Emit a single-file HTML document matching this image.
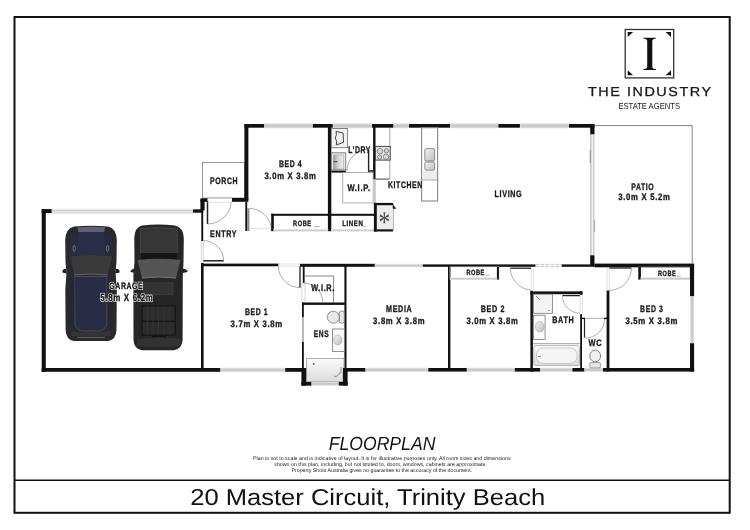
<!DOCTYPE html>
<html><head><meta charset="utf-8"><style>
html,body{margin:0;padding:0;background:#fff;width:750px;height:530px;overflow:hidden}
svg{display:block;will-change:transform}
.lb{font-family:"Liberation Sans",sans-serif;font-weight:bold;text-rendering:geometricPrecision}
text{font-family:"Liberation Sans",sans-serif;text-rendering:geometricPrecision}
</style></head><body>
<svg width="750" height="530" viewBox="0 0 750 530">
<defs>
<linearGradient id="wg" x1="0" y1="0" x2="0" y2="1"><stop offset="0" stop-color="#e2e2e2"/><stop offset="0.5" stop-color="#c4c4c4"/><stop offset="1" stop-color="#d6d6d6"/></linearGradient>
<linearGradient id="wgv" x1="0" y1="0" x2="1" y2="0"><stop offset="0" stop-color="#e2e2e2"/><stop offset="0.5" stop-color="#c4c4c4"/><stop offset="1" stop-color="#d6d6d6"/></linearGradient>
<linearGradient id="sg" x1="0" y1="0" x2="1" y2="1"><stop offset="0" stop-color="#f4f4f4"/><stop offset="1" stop-color="#bdbdbd"/></linearGradient>
<linearGradient id="sg2" x1="0" y1="0" x2="1" y2="0"><stop offset="0" stop-color="#9a9a9a"/><stop offset="0.4" stop-color="#d0d0d0"/><stop offset="1" stop-color="#eeeeee"/></linearGradient>
<linearGradient id="bg" x1="0" y1="0" x2="0" y2="1"><stop offset="0" stop-color="#fbfbfb"/><stop offset="1" stop-color="#dcdcdc"/></linearGradient>
</defs>
<rect width="750" height="530" fill="#fff"/>
<rect x="14.5" y="17" width="715.2" height="495.8" fill="none" stroke="#111" stroke-width="2"/>
<line x1="14.5" y1="480.2" x2="729.7" y2="480.2" stroke="#111" stroke-width="1.6"/>
<rect x="41.7" y="209.1" width="10.1" height="4.0" fill="#111"/>
<rect x="51.8" y="208.5" width="141.1" height="5.6" fill="#ebebeb"/>
<line x1="51.8" y1="210.7" x2="192.9" y2="210.7" stroke="#c2c2c2" stroke-width="1.1"/>
<line x1="51.8" y1="212.8" x2="192.9" y2="212.8" stroke="#d6d6d6" stroke-width="0.8"/>
<rect x="192.9" y="209.3" width="10.3" height="3.4" fill="#111"/>
<rect x="41.7" y="209.1" width="4.1" height="162.9" fill="#111"/>
<rect x="41.7" y="368" width="179.0" height="3.8" fill="#111"/>
<rect x="220.7" y="368" width="64.5" height="3.8" fill="url(#wg)" stroke="#e4e4e4" stroke-width="0.6"/>
<rect x="285.2" y="368" width="18.3" height="3.8" fill="#111"/>
<rect x="202.4" y="162.5" width="42.1" height="35.5" stroke="#8a8a8a" stroke-width="0.9" fill="none"/>
<rect x="200.4" y="198.3" width="7.1" height="3.5" fill="#111"/>
<rect x="200.4" y="199.9" width="4.2" height="10.4" fill="#111"/>
<rect x="201.3" y="199" width="1.9" height="42" fill="#111"/>
<rect x="232" y="198" width="16.4" height="3.8" fill="#111"/>
<line x1="207.5" y1="201" x2="207.5" y2="224" stroke="#222" stroke-width="1.5"/>
<path d="M207.5 224 A23.5 23.5 0 0 0 231.2 201.5" stroke="#999" stroke-width="0.8" fill="none"/>
<line x1="207.5" y1="197.2" x2="232" y2="197.2" stroke="#ccc" stroke-width="0.6"/>
<line x1="207.5" y1="202.3" x2="232" y2="202.3" stroke="#ccc" stroke-width="0.6"/>
<line x1="201.3" y1="241" x2="201.3" y2="261" stroke="#bbb" stroke-width="0.6"/>
<line x1="203.3" y1="241" x2="203.3" y2="261" stroke="#bbb" stroke-width="0.6"/>
<line x1="203.2" y1="260.8" x2="224" y2="260.8" stroke="#222" stroke-width="1.5"/>
<path d="M203.2 240.5 A20.5 20.5 0 0 1 223.7 261" stroke="#999" stroke-width="0.8" fill="none"/>
<rect x="244.5" y="124" width="20.1" height="3.7" fill="#111"/>
<rect x="264.6" y="123.5" width="48.2" height="4.5" fill="url(#wg)" stroke="#e4e4e4" stroke-width="0.6"/>
<rect x="312.8" y="124" width="20.2" height="3.7" fill="#111"/>
<rect x="244.4" y="124" width="4.0" height="75.4" fill="#111"/>
<rect x="245.3" y="201.8" width="1.9" height="29.2" fill="#111"/>
<rect x="247.2" y="208.4" width="2.2" height="22.6" fill="#8a8a8a"/>
<path d="M249.4 208.4 A22.6 22.6 0 0 1 271.5 231" stroke="#999" stroke-width="0.8" fill="none"/>
<line x1="249.4" y1="228.7" x2="271.2" y2="228.7" stroke="#ccc" stroke-width="0.6"/>
<rect x="327.9" y="124" width="3.4" height="107.2" fill="#111"/>
<rect x="271.2" y="213.8" width="102.8" height="2.0" fill="#111"/>
<rect x="271.2" y="213.8" width="2.6" height="17.4" fill="#111"/>
<rect x="273.8" y="229.2" width="54.1" height="2.0" fill="url(#wg)" stroke="#e4e4e4" stroke-width="0.6"/>
<rect x="331.3" y="229.2" width="42.7" height="2.0" fill="url(#wg)" stroke="#e4e4e4" stroke-width="0.6"/>
<rect x="333" y="123.5" width="39" height="4.5" fill="url(#wg)" stroke="#e4e4e4" stroke-width="0.6"/>
<rect x="372" y="124" width="21.8" height="3.7" fill="#111"/>
<rect x="373.1" y="124" width="2.4" height="55.4" fill="#111"/>
<rect x="331.3" y="128.5" width="16.3" height="19.2" stroke="#777" stroke-width="0.9" fill="#f2f2f2"/>
<path d="M336 131.4 L343.1 133 L343.5 142.3 Q340 143.8 336.4 144.8 Q337.4 141 335.2 138 Q337.2 135 336 131.4 Z" stroke="#333" stroke-width="0.9" fill="none"/>
<rect x="331.3" y="152.8" width="14.4" height="17.0" stroke="#777" stroke-width="0.9" fill="#e8e8e8"/>
<rect x="333.5" y="155" width="10" height="14" fill="url(#sg2)" stroke="#999" stroke-width="0.5"/>
<line x1="333.2" y1="161.6" x2="337.5" y2="161.6" stroke="#555" stroke-width="1.2"/>
<rect x="331.3" y="170.6" width="14.7" height="2.0" fill="#111"/>
<line x1="368.6" y1="150" x2="368.6" y2="171.5" stroke="#222" stroke-width="1.4"/>
<line x1="368" y1="171" x2="373.2" y2="171" stroke="#222" stroke-width="1.6"/>
<path d="M347 171 A21.6 21.6 0 0 1 368.6 149.4" stroke="#999" stroke-width="0.8" fill="none"/>
<rect x="342.8" y="172.6" width="30.4" height="30.3" stroke="#999" stroke-width="0.8" fill="none"/>
<rect x="373.3" y="179.5" width="2.5" height="23.5" fill="#c8c8c8"/>
<line x1="375.5" y1="179.1" x2="389.5" y2="179.1" stroke="#444" stroke-width="1"/>
<line x1="389.8" y1="127.7" x2="389.8" y2="179.1" stroke="#888" stroke-width="0.8"/>
<rect x="375.4" y="146.4" width="14.8" height="13.7" stroke="#444" stroke-width="1" fill="#e4e4e4"/>
<circle cx="379.9" cy="151.2" r="2.7" fill="#f2f2f2" stroke="#666" stroke-width="0.8"/>
<circle cx="379.9" cy="151.2" r="1.22" fill="none" stroke="#999" stroke-width="0.5"/>
<circle cx="386.4" cy="150.8" r="2.1" fill="#f2f2f2" stroke="#666" stroke-width="0.8"/>
<circle cx="386.4" cy="150.8" r="0.95" fill="none" stroke="#999" stroke-width="0.5"/>
<circle cx="379.6" cy="157.1" r="2.1" fill="#f2f2f2" stroke="#666" stroke-width="0.8"/>
<circle cx="379.6" cy="157.1" r="0.95" fill="none" stroke="#999" stroke-width="0.5"/>
<circle cx="386.1" cy="156.8" r="2.7" fill="#f2f2f2" stroke="#666" stroke-width="0.8"/>
<circle cx="386.1" cy="156.8" r="1.22" fill="none" stroke="#999" stroke-width="0.5"/>
<rect x="393.8" y="123.5" width="15.2" height="4.5" fill="url(#wg)" stroke="#e4e4e4" stroke-width="0.6"/>
<rect x="409" y="124" width="41.4" height="3.7" fill="#111"/>
<rect x="421.6" y="127.7" width="16.0" height="73.3" stroke="#888" stroke-width="1.1" fill="none"/>
<rect x="422.2" y="170.8" width="14.8" height="9.2" fill="#ececec"/>
<line x1="421.6" y1="180" x2="437.6" y2="180" stroke="#999" stroke-width="0.8"/>
<rect x="424.8" y="148.6" width="9.9" height="12.4" rx="1.5" fill="url(#sg)" stroke="#666" stroke-width="0.7"/>
<rect x="424.8" y="162" width="9.9" height="8.2" rx="1.5" fill="url(#sg)" stroke="#666" stroke-width="0.7"/>
<rect x="375" y="204" width="18.4" height="26" fill="#ececec" stroke="#999" stroke-width="0.7"/>
<rect x="373.9" y="202.9" width="19.1" height="2.3" fill="#111"/>
<rect x="373.9" y="202.9" width="2.9" height="28.6" fill="#111"/>
<rect x="373.9" y="229.4" width="19.1" height="2.1" fill="#111"/>
<text transform="translate(384.3,231.5) scale(0.78,1)" x="0" y="0" font-size="30" text-anchor="middle" fill="#4a4a4a" style="font-family:'Liberation Serif',serif">*</text>
<path d="M393 205 L396 208.5 L393 208.5 Z" stroke="#111" stroke-width="0.5" fill="#111"/>
<rect x="450.4" y="123.5" width="48.0" height="4.5" fill="url(#wg)" stroke="#e4e4e4" stroke-width="0.6"/>
<rect x="498.4" y="124" width="21.8" height="3.7" fill="#111"/>
<rect x="520.2" y="123.5" width="48.8" height="4.5" fill="url(#wg)" stroke="#e4e4e4" stroke-width="0.6"/>
<rect x="569" y="124" width="25.5" height="3.7" fill="#111"/>
<rect x="590.2" y="124" width="4.3" height="10.6" fill="#111"/>
<rect x="590.2" y="134.6" width="4.3" height="120.7" fill="#fff"/>
<line x1="590.9" y1="134.6" x2="590.9" y2="255.3" stroke="#9a9a9a" stroke-width="0.9"/>
<line x1="593.8" y1="134.6" x2="593.8" y2="255.3" stroke="#b0b0b0" stroke-width="0.9"/>
<line x1="592.3" y1="134.6" x2="592.3" y2="255.3" stroke="#dddddd" stroke-width="0.5"/>
<line x1="590.2" y1="150" x2="590.2" y2="163" stroke="#777" stroke-width="0.8"/>
<line x1="594.6" y1="220" x2="594.6" y2="232" stroke="#999" stroke-width="0.8"/>
<rect x="590.2" y="255.3" width="4.3" height="10.7" fill="#111"/>
<polyline points="594.5,125.6 692.2,125.6 692.2,263.5" fill="none" stroke="#777" stroke-width="0.9"/>
<rect x="201.5" y="263.6" width="76.9" height="2.7" fill="#111"/>
<rect x="300" y="263.8" width="75" height="3.0" fill="#111"/>
<rect x="375" y="264.1" width="47.9" height="2.9" fill="url(#wg)" stroke="#e4e4e4" stroke-width="0.6"/>
<rect x="422.9" y="264.4" width="112.6" height="2.4" fill="#111"/>
<path d="M535.5 264.4 H561.4 M535.5 266.6 H561.4" stroke="#b4b4b4" stroke-width="0.8" stroke-dasharray="3.6 1.4" fill="none"/>
<rect x="561.6" y="264.4" width="32.9" height="2.4" fill="#111"/>
<rect x="594.5" y="263.6" width="99.6" height="3.7" fill="#111"/>
<rect x="201" y="263" width="2.6" height="105" fill="#111"/>
<path d="M278.4 266 A21.6 21.6 0 0 0 300 287.6" stroke="#999" stroke-width="0.8" fill="none"/>
<line x1="300" y1="266" x2="300" y2="287.6" stroke="#222" stroke-width="1.3"/>
<line x1="278.4" y1="264" x2="300" y2="264" stroke="#ccc" stroke-width="0.6"/>
<line x1="278.4" y1="266" x2="300" y2="266" stroke="#ccc" stroke-width="0.6"/>
<rect x="302.8" y="266" width="1.8" height="17" fill="#111"/>
<line x1="301.9" y1="283" x2="301.9" y2="302.5" stroke="#bbb" stroke-width="0.6"/>
<line x1="305" y1="283" x2="305" y2="302.5" stroke="#bbb" stroke-width="0.6"/>
<rect x="344.4" y="266" width="2.1" height="102" fill="#111"/>
<polyline points="304.6,276 333.6,276 333.6,302.8" fill="none" stroke="#666" stroke-width="0.8"/>
<rect x="302" y="302.5" width="43" height="2.4" fill="#111"/>
<path d="M303.4 283 A19.3 19.3 0 0 1 322.7 302.4" stroke="#999" stroke-width="0.8" fill="none"/>
<rect x="302" y="302.5" width="1.8" height="15.0" fill="#111"/>
<rect x="302" y="317.5" width="1.9" height="24.4" fill="#b5b5b5"/>
<rect x="302" y="341.9" width="1.8" height="26.6" fill="#111"/>
<rect x="339.3" y="311" width="5" height="12.3" rx="2" fill="#e6e6e6" stroke="#555" stroke-width="0.6"/>
<ellipse cx="333.3" cy="317.2" rx="6" ry="6" fill="#e8e8e8" stroke="#555" stroke-width="0.6"/>
<rect x="332.4" y="329" width="12.0" height="22.4" stroke="#777" stroke-width="0.8" fill="#fafafa"/>
<ellipse cx="337.8" cy="340" rx="4.2" ry="5" fill="url(#sg)" stroke="#999" stroke-width="0.5"/>
<rect x="306.6" y="358.5" width="37.4" height="23" fill="url(#bg)" stroke="#999" stroke-width="0.8"/>
<circle cx="313.7" cy="363.8" r="0.9" fill="#444"/>
<path d="M334 376 Q336 378 338 375 Q339.5 372 341 373 L341 367" stroke="#777" stroke-width="0.8" fill="none"/>
<rect x="301.4" y="368" width="4.7" height="17.6" fill="#111"/>
<rect x="342.9" y="368" width="4.7" height="17.6" fill="#111"/>
<rect x="301.4" y="382" width="10.4" height="3.6" fill="#111"/>
<rect x="311.8" y="382" width="27.0" height="3.6" fill="url(#wg)" stroke="#e4e4e4" stroke-width="0.6"/>
<rect x="338.8" y="382" width="8.8" height="3.6" fill="#111"/>
<rect x="346.9" y="368" width="18.9" height="3.6" fill="#111"/>
<rect x="365.8" y="368" width="62.5" height="3.6" fill="url(#wg)" stroke="#e4e4e4" stroke-width="0.6"/>
<rect x="428.3" y="368" width="38.7" height="3.6" fill="#111"/>
<rect x="448" y="266" width="2.4" height="102" fill="#111"/>
<rect x="449.8" y="266.8" width="49.1" height="12.7" stroke="#999" stroke-width="0.6" fill="none"/>
<rect x="496.9" y="266.8" width="2.0" height="12.7" fill="#111"/>
<rect x="450.4" y="277.8" width="46.5" height="1.8" fill="url(#wg)" stroke="#e4e4e4" stroke-width="0.6"/>
<line x1="510.4" y1="268.2" x2="531.2" y2="268.2" stroke="#222" stroke-width="1.3"/>
<path d="M510.4 268.2 A21.8 21.8 0 0 0 531.2 290" stroke="#999" stroke-width="0.8" fill="none"/>
<line x1="531.4" y1="268" x2="531.4" y2="290" stroke="#ccc" stroke-width="0.6"/>
<line x1="533.6" y1="268" x2="533.6" y2="290" stroke="#ccc" stroke-width="0.6"/>
<rect x="467" y="368" width="47.8" height="3.6" fill="url(#wg)" stroke="#e4e4e4" stroke-width="0.6"/>
<rect x="514.8" y="368" width="25.7" height="3.6" fill="#111"/>
<rect x="530.4" y="290.8" width="2.5" height="80.8" fill="#111"/>
<rect x="530.4" y="291.4" width="52.0" height="2.8" fill="#111"/>
<rect x="580" y="291.3" width="2.4" height="3.5" fill="#111"/>
<line x1="562.4" y1="295.6" x2="580" y2="295.6" stroke="#222" stroke-width="1.3"/>
<path d="M562.4 295.6 A17.6 17.6 0 0 0 580 313.2" stroke="#999" stroke-width="0.8" fill="none"/>
<line x1="580.2" y1="295" x2="580.2" y2="313" stroke="#ccc" stroke-width="0.6"/>
<line x1="582.4" y1="295" x2="582.4" y2="313" stroke="#ccc" stroke-width="0.6"/>
<rect x="580.2" y="314.1" width="1.8" height="53.9" fill="#111"/>
<rect x="533.6" y="294.2" width="18.8" height="19.1" stroke="#777" stroke-width="0.8" fill="#f4f4f4"/>
<path d="M536 296 L540 300" stroke="#777" stroke-width="0.6" fill="none"/>
<circle cx="549" cy="310.5" r="0.6" fill="#555"/>
<rect x="533.6" y="315.2" width="11.5" height="24.2" stroke="#777" stroke-width="0.8" fill="#fafafa"/>
<ellipse cx="539.8" cy="326.8" rx="4.4" ry="5.2" fill="url(#sg)" stroke="#999" stroke-width="0.5"/>
<line x1="532.9" y1="343.7" x2="580.2" y2="343.7" stroke="#888" stroke-width="0.8"/>
<rect x="533.8" y="345.6" width="45.6" height="20" rx="2" fill="url(#bg)" stroke="#999" stroke-width="0.7"/>
<rect x="536.5" y="348" width="40.5" height="15.5" rx="6.5" fill="#f5f5f5" stroke="#b0b0b0" stroke-width="0.6"/>
<path d="M538 356.5 L541 356.5" stroke="#777" stroke-width="0.8" fill="none"/>
<rect x="540.5" y="368" width="31.9" height="3.6" fill="url(#wg)" stroke="#e4e4e4" stroke-width="0.6"/>
<rect x="572.4" y="368" width="12.3" height="3.6" fill="#111"/>
<line x1="584" y1="318.4" x2="607" y2="318.4" stroke="#999" stroke-width="0.8"/>
<rect x="580.2" y="317.7" width="4.8" height="1.4" fill="#111"/>
<rect x="604" y="317.7" width="3.5" height="1.4" fill="#111"/>
<path d="M585 338 A19 19 0 0 0 604.5 319" stroke="#999" stroke-width="0.8" fill="none"/>
<line x1="584.5" y1="319" x2="584.5" y2="337.5" stroke="#222" stroke-width="1.2"/>
<rect x="584.7" y="368" width="18.3" height="3.6" fill="url(#wg)" stroke="#e4e4e4" stroke-width="0.6"/>
<rect x="603" y="368" width="91.1" height="3.6" fill="#111"/>
<rect x="589.8" y="362.6" width="10.6" height="5.3" rx="1" fill="#e8e8e8" stroke="#666" stroke-width="0.6"/>
<ellipse cx="595.2" cy="356" rx="5.4" ry="5.9" fill="#f0f0f0" stroke="#555" stroke-width="0.7"/>
<rect x="606.6" y="290.5" width="2.8" height="81.0" fill="#111"/>
<line x1="607" y1="268" x2="607" y2="290" stroke="#ccc" stroke-width="0.6"/>
<line x1="609.4" y1="268" x2="609.4" y2="290" stroke="#ccc" stroke-width="0.6"/>
<line x1="609.4" y1="268" x2="631.4" y2="268" stroke="#222" stroke-width="1.3"/>
<path d="M609.4 290.4 A22.4 22.4 0 0 0 631.4 268" stroke="#999" stroke-width="0.8" fill="none"/>
<rect x="638.4" y="267" width="51.6" height="12.4" stroke="#999" stroke-width="0.6" fill="none"/>
<rect x="638.4" y="267" width="2.5" height="12.4" fill="#111"/>
<rect x="640.9" y="277.6" width="49.1" height="2.0" fill="url(#wg)" stroke="#e4e4e4" stroke-width="0.6"/>
<rect x="690" y="264" width="4.1" height="32.6" fill="#111"/>
<rect x="690.2" y="296.6" width="3.7" height="46.7" fill="url(#wgv)" stroke="#e4e4e4" stroke-width="0.6"/>
<rect x="690" y="343.3" width="4.1" height="28.2" fill="#111"/>
<g id="car1">
<path d="M62.3 272.5 Q62 269 66 268.8 L67 273.5 Z M119.6 272.5 Q120 269 116 268.8 L115 273.5 Z" fill="#1e1e24"/>
<path d="M74 226.5 Q91 224.8 108 226.5 Q116.5 228.5 116.8 240 L116.5 262 Q116 268 115.5 272 L116.8 290 L116.5 330 Q116 340 108 341 L74 341 Q66 340 65.6 330 L65.3 290 L66.5 272 Q66 268 65.5 262 L65.2 240 Q65.5 228.5 74 226.5 Z" fill="#29292e"/>
<path d="M77.5 227.3 Q91 226 105 227.3 L104.2 232 L78.2 232 Z" fill="#5f6170"/>
<path d="M78.2 232 L104.2 232 L105.5 255 L76.5 255 Z" fill="#2b2e47"/>
<path d="M70 236 L77.8 235.5 L76.5 255 L69.5 256 Z M112 236 L104.5 235.5 L105.5 255 L112.5 256 Z" fill="#282b40"/>
<ellipse cx="74.2" cy="248.5" rx="1.2" ry="3.2" fill="none" stroke="#8a8c99" stroke-width="0.7"/>
<ellipse cx="107.6" cy="248.5" rx="1.2" ry="3.2" fill="none" stroke="#8a8c99" stroke-width="0.7"/>
<path d="M70.5 256.5 Q91 253.5 112 256.5 L107.8 275 Q91 273 74 275 Z" fill="#3a3a3b"/>
<path d="M74 275 Q91 273 107.8 275" stroke="#6a6a6e" stroke-width="0.9" fill="none"/>
<path d="M74.5 276.5 L107 276.5 L106.8 325 Q104 331 98 331 L84 331 Q77.5 331 75 325 Z" fill="#2a2c46" stroke="#5f6172" stroke-width="0.6"/>
<path d="M69 278 L74.5 277.5 L74 326 L69 330 Z M113 278 L107.5 277.5 L108 326 L113 330 Z" fill="#26272f"/>
<path d="M72 331.5 Q91 333 110 331.5 L111 336 Q91 338 71 336 Z" fill="#333338"/>
<path d="M77 337.5 L105 337.5" stroke="#66666d" stroke-width="0.8"/>
</g>
<g id="car2">
<path d="M130.5 272 Q130.5 269 135 268.8 L135.5 273 Z M187.6 272 Q187.6 269 183 268.8 L182.5 273 Z" fill="#222"/>
<path d="M142 225.5 Q158 223.5 175 225.5 Q183.5 227.5 183.8 238 L183.5 262 L182.8 275 L182.6 340 Q182 349 174 350.3 L142 350.3 Q134 349 133.5 340 L133.4 275 L134.5 262 L134.3 238 Q134.6 227.5 142 225.5 Z" fill="#262626"/>
<path d="M140.5 228.5 Q158 226.5 177.5 228.5 L177.5 253 L140.5 253 Z" fill="#363636" stroke="#4a4a4a" stroke-width="0.7"/>
<path d="M140.5 253 L177.5 253 L176.5 260 L141.5 260 Z" fill="#151515"/>
<path d="M137.5 260 Q158 257.5 180.5 260 L176 278 Q158 276 142 278 Z" fill="#555"/>
<path d="M142 278 Q158 276 176 278" stroke="#777" stroke-width="1" fill="none"/>
<path d="M141 281 L177 281 L176.5 306 L141.5 306 Z" fill="#262626"/>
<rect x="143.6" y="282.8" width="29.4" height="12" fill="#333" stroke="#444" stroke-width="0.6"/>
<rect x="142" y="306" width="33.2" height="29" fill="#2c2c2c" stroke="#111" stroke-width="1"/>
<path d="M142 321.3 H175.2" stroke="#111" stroke-width="1.3"/>
<path d="M147.5 306 V335 M153 306 V335 M158.6 306 V335 M164.2 306 V335 M169.8 306 V335" stroke="#383838" stroke-width="0.7"/>
<path d="M152 337 Q159 335.5 166 337" stroke="#111" stroke-width="1.6" fill="none"/>
<path d="M137 339 Q158 336 181 339 L180.5 346 Q158 348.5 136.5 346 Z" fill="#323232"/>
</g>

<text transform="translate(210,184.0) scale(0.25)" x="0" y="0" font-size="37.8" textLength="112.65" lengthAdjust="spacingAndGlyphs" class="lb" letter-spacing="3.4" fill="#1a1a1a" stroke="#1a1a1a" stroke-width="1.36">PORCH</text>
<text transform="translate(210.1,236.9) scale(0.25)" x="0" y="0" font-size="37.8" textLength="107.85" lengthAdjust="spacingAndGlyphs" class="lb" letter-spacing="3.4" fill="#1a1a1a" stroke="#1a1a1a" stroke-width="1.36">ENTRY</text>
<text transform="translate(278.9,166.8) scale(0.25)" x="0" y="0" font-size="37.8" textLength="93.05" lengthAdjust="spacingAndGlyphs" class="lb" letter-spacing="3.4" fill="#1a1a1a" stroke="#1a1a1a" stroke-width="1.36">BED 4</text>
<text transform="translate(264.4,179.2) scale(0.25)" x="0" y="0" font-size="37.8" textLength="208.25" lengthAdjust="spacingAndGlyphs" class="lb" letter-spacing="3.4" fill="#1a1a1a" stroke="#1a1a1a" stroke-width="1.36">3.0m X 3.8m</text>
<text transform="translate(348.2,152.5) scale(0.25)" x="0" y="0" font-size="37.8" textLength="91.05" lengthAdjust="spacingAndGlyphs" class="lb" letter-spacing="3.4" fill="#1a1a1a" stroke="#1a1a1a" stroke-width="1.36">L&#8217;DRY</text>
<text transform="translate(347.4,191.1) scale(0.25)" x="0" y="0" font-size="37.8" textLength="93.45" lengthAdjust="spacingAndGlyphs" class="lb" letter-spacing="3.4" fill="#1a1a1a" stroke="#1a1a1a" stroke-width="1.36">W.I.P.</text>
<text transform="translate(387.9,187.6) scale(0.25)" x="0" y="0" font-size="37.8" textLength="140.25" lengthAdjust="spacingAndGlyphs" class="lb" letter-spacing="3.4" fill="#1a1a1a" stroke="#1a1a1a" stroke-width="1.36">KITCHEN</text>
<text transform="translate(494.5,197.3) scale(0.25)" x="0" y="0" font-size="37.8" textLength="111.45" lengthAdjust="spacingAndGlyphs" class="lb" letter-spacing="3.4" fill="#1a1a1a" stroke="#1a1a1a" stroke-width="1.36">LIVING</text>
<text transform="translate(631.2,189.5) scale(0.25)" x="0" y="0" font-size="37.8" textLength="92.25" lengthAdjust="spacingAndGlyphs" class="lb" letter-spacing="3.4" fill="#1a1a1a" stroke="#1a1a1a" stroke-width="1.36">PATIO</text>
<text transform="translate(618.2,200.1) scale(0.25)" x="0" y="0" font-size="37.8" textLength="209.85" lengthAdjust="spacingAndGlyphs" class="lb" letter-spacing="3.4" fill="#1a1a1a" stroke="#1a1a1a" stroke-width="1.36">3.0m X 5.2m</text>
<text transform="translate(293,226.2) scale(0.25)" x="0" y="0" font-size="30.4" textLength="74.53" lengthAdjust="spacingAndGlyphs" class="lb" letter-spacing="2.74" fill="#1a1a1a" stroke="#1a1a1a" stroke-width="1.36">ROBE</text>
<text transform="translate(342.3,225.6) scale(0.25)" x="0" y="0" font-size="31.6" textLength="84.21" lengthAdjust="spacingAndGlyphs" class="lb" letter-spacing="2.84" fill="#1a1a1a" stroke="#1a1a1a" stroke-width="1.36">LINEN</text>
<text transform="translate(244.9,314.8) scale(0.25)" x="0" y="0" font-size="37.8" textLength="93.45" lengthAdjust="spacingAndGlyphs" class="lb" letter-spacing="3.4" fill="#1a1a1a" stroke="#1a1a1a" stroke-width="1.36">BED 1</text>
<text transform="translate(230.6,326.7) scale(0.25)" x="0" y="0" font-size="37.8" textLength="209.05" lengthAdjust="spacingAndGlyphs" class="lb" letter-spacing="3.4" fill="#1a1a1a" stroke="#1a1a1a" stroke-width="1.36">3.7m X 3.8m</text>
<text transform="translate(311.2,290.6) scale(0.25)" x="0" y="0" font-size="37.8" textLength="95.05" lengthAdjust="spacingAndGlyphs" class="lb" letter-spacing="3.4" fill="#1a1a1a" stroke="#1a1a1a" stroke-width="1.36">W.I.R.</text>
<text transform="translate(313.7,336.7) scale(0.25)" x="0" y="0" font-size="37.8" textLength="62.25" lengthAdjust="spacingAndGlyphs" class="lb" letter-spacing="3.4" fill="#1a1a1a" stroke="#1a1a1a" stroke-width="1.36">ENS</text>
<text transform="translate(386.1,312.2) scale(0.25)" x="0" y="0" font-size="37.8" textLength="105.05" lengthAdjust="spacingAndGlyphs" class="lb" letter-spacing="3.4" fill="#1a1a1a" stroke="#1a1a1a" stroke-width="1.36">MEDIA</text>
<text transform="translate(373.1,323.7) scale(0.25)" x="0" y="0" font-size="37.8" textLength="208.25" lengthAdjust="spacingAndGlyphs" class="lb" letter-spacing="3.4" fill="#1a1a1a" stroke="#1a1a1a" stroke-width="1.36">3.8m X 3.8m</text>
<text transform="translate(466.5,274.8) scale(0.25)" x="0" y="0" font-size="30.4" textLength="73.33" lengthAdjust="spacingAndGlyphs" class="lb" letter-spacing="2.74" fill="#1a1a1a" stroke="#1a1a1a" stroke-width="1.36">ROBE</text>
<text transform="translate(480.8,311.8) scale(0.25)" x="0" y="0" font-size="37.8" textLength="97.05" lengthAdjust="spacingAndGlyphs" class="lb" letter-spacing="3.4" fill="#1a1a1a" stroke="#1a1a1a" stroke-width="1.36">BED 2</text>
<text transform="translate(466.5,323.7) scale(0.25)" x="0" y="0" font-size="37.8" textLength="208.25" lengthAdjust="spacingAndGlyphs" class="lb" letter-spacing="3.4" fill="#1a1a1a" stroke="#1a1a1a" stroke-width="1.36">3.0m X 3.8m</text>
<text transform="translate(552.3,323.1) scale(0.25)" x="0" y="0" font-size="37.8" textLength="87.85" lengthAdjust="spacingAndGlyphs" class="lb" letter-spacing="3.4" fill="#1a1a1a" stroke="#1a1a1a" stroke-width="1.36">BATH</text>
<text transform="translate(588.6,345.5) scale(0.25)" x="0" y="0" font-size="37.8" textLength="55.45" lengthAdjust="spacingAndGlyphs" class="lb" letter-spacing="3.4" fill="#1a1a1a" stroke="#1a1a1a" stroke-width="1.36">WC</text>
<text transform="translate(658,276.0) scale(0.25)" x="0" y="0" font-size="30.4" textLength="72.93" lengthAdjust="spacingAndGlyphs" class="lb" letter-spacing="2.74" fill="#1a1a1a" stroke="#1a1a1a" stroke-width="1.36">ROBE</text>
<text transform="translate(640.1,312.3) scale(0.25)" x="0" y="0" font-size="37.8" textLength="93.85" lengthAdjust="spacingAndGlyphs" class="lb" letter-spacing="3.4" fill="#1a1a1a" stroke="#1a1a1a" stroke-width="1.36">BED 3</text>
<text transform="translate(625.4,323.7) scale(0.25)" x="0" y="0" font-size="37.8" textLength="210.65" lengthAdjust="spacingAndGlyphs" class="lb" letter-spacing="3.4" fill="#1a1a1a" stroke="#1a1a1a" stroke-width="1.36">3.5m X 3.8m</text>
<text x="109.3" y="289.1" font-size="9.3" letter-spacing="0.8" textLength="34" lengthAdjust="spacingAndGlyphs" class="lb" fill="#111" stroke="#fff" stroke-width="1.6">GARAGE</text>
<text x="100.2" y="301.1" font-size="10.4" letter-spacing="0.9" textLength="53.3" lengthAdjust="spacingAndGlyphs" class="lb" fill="#111" stroke="#fff" stroke-width="1.6">5.8m X 6.2m</text>
<text x="109.3" y="289.1" font-size="9.3" letter-spacing="0.8" textLength="34" lengthAdjust="spacingAndGlyphs" class="lb" fill="#111" stroke="#111" stroke-width="0.3">GARAGE</text>
<text x="100.2" y="301.1" font-size="10.4" letter-spacing="0.9" textLength="53.3" lengthAdjust="spacingAndGlyphs" class="lb" fill="#111" stroke="#111" stroke-width="0.3">5.8m X 6.2m</text>
<line x1="314.3" y1="226.6" x2="319.6" y2="226.6" stroke="#777" stroke-width="0.6"/>
<line x1="362.8" y1="226.3" x2="366.40000000000003" y2="226.3" stroke="#777" stroke-width="0.6"/>
<line x1="485.3" y1="275.2" x2="489.5" y2="275.2" stroke="#777" stroke-width="0.6"/>
<line x1="676.5" y1="276.2" x2="680.7" y2="276.2" stroke="#777" stroke-width="0.6"/>
<rect x="625.2" y="29.5" width="48.5" height="48.4" fill="#fff" stroke="#333" stroke-width="1.3"/>
<path d="M627.7 32 h5.4 l-5.4 5 z M671 32 h-5.4 l5.4 5 z M627.7 75.3 h5.4 l-5.4 -5 z M671 75.3 h-5.4 l5.4 -5 z" fill="#111"/>
<path d="M643.2 37.7 L656 37.7 L656 38.4 Q652.6 38.8 652.3 40.8 L652.3 66.9 Q652.6 68.9 656 69.3 L656 70 L643.2 70 L643.2 69.3 Q646.9 68.9 647.2 66.9 L647.2 40.8 Q646.9 38.8 643.2 38.4 Z" fill="#111"/>
<text x="588" y="96.3" font-size="13" letter-spacing="1.4" textLength="124.6" lengthAdjust="spacingAndGlyphs" fill="#1a1a1a" stroke="#1a1a1a" stroke-width="0.3">THE INDUSTRY</text>
<text x="618.4" y="108.6" font-size="8.8" textLength="61.6" lengthAdjust="spacingAndGlyphs" font-family="Liberation Sans" fill="#1a1a1a">ESTATE AGENTS</text>
<text x="328.7" y="450.2" font-size="19" textLength="106.7" lengthAdjust="spacingAndGlyphs" font-family="Liberation Sans" font-style="italic" fill="#111">FLOORPLAN</text>
<text x="381.8" y="460.2" font-size="5.3" text-anchor="middle" textLength="257.6" lengthAdjust="spacingAndGlyphs" font-family="Liberation Sans" fill="#222">Plan is not to scale and is indicative of layout. It is for illustrative purposes only. All room sizes and dimensions</text>
<text x="380.6" y="466" font-size="5.3" text-anchor="middle" textLength="212.7" lengthAdjust="spacingAndGlyphs" font-family="Liberation Sans" fill="#222">shown on this plan, including, but not limited to, doors, windows, cabinets are approximate.</text>
<text x="381.8" y="472.2" font-size="5.3" text-anchor="middle" textLength="180.7" lengthAdjust="spacingAndGlyphs" font-family="Liberation Sans" fill="#222">Property Shots Australia gives no guarantee to the accuracy of the document.</text>
<text x="190.2" y="505.3" font-size="23" textLength="355" lengthAdjust="spacingAndGlyphs" font-family="Liberation Sans" fill="#111">20 Master Circuit, Trinity Beach</text>
</svg>
</body></html>
